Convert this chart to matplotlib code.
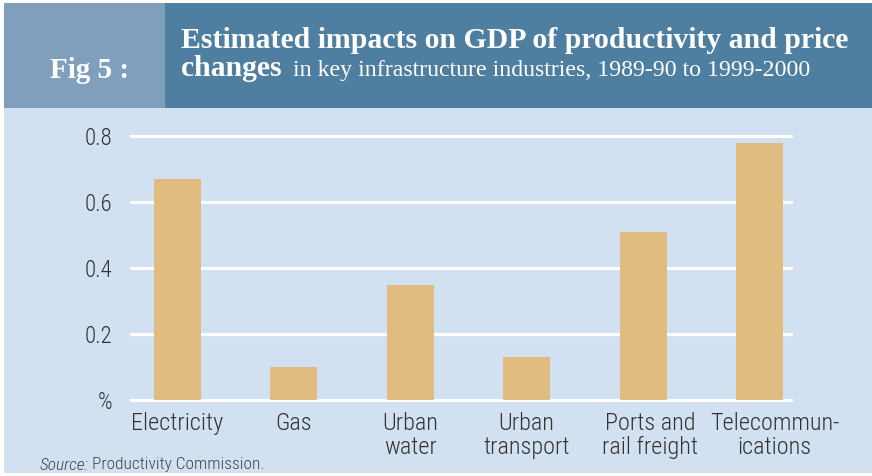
import matplotlib
matplotlib.use('Agg')
import matplotlib.pyplot as plt
import matplotlib.patches as mpatches
import matplotlib.transforms as mtransforms
import numpy as np

categories = ['Electricity', 'Gas', 'Urban\nwater', 'Urban\ntransport',
              'Ports and\nrail freight', 'Telecommun-\nications']
impacts = [0.67, 0.10, 0.35, 0.13, 0.51, 0.78]
yticks = [0.0, 0.2, 0.4, 0.6, 0.8]
ytick_labels = ['%', '0.2', '0.4', '0.6', '0.8']

bg = '#d2e1f1'
bar_color = '#e0bc80'
head_left = '#7f9fbc'
head_right = '#4f7fa0'
text_color = '#333333'
narrow = ['Roboto Condensed', 'PT Sans Narrow', 'DejaVu Sans']
serif = ['Liberation Serif', 'DejaVu Serif']

W, H = 872, 476
fig = plt.figure(figsize=(W / 100, H / 100), dpi=100)
fig.patch.set_facecolor('white')

def px_rect(x0, y0, x1, y1, color):
    # rectangle in pixel coords (y from top)
    r = mpatches.Rectangle((x0 / W, 1 - y1 / H), (x1 - x0) / W, (y1 - y0) / H,
                           transform=fig.transFigure, facecolor=color,
                           edgecolor='none', zorder=-5)
    fig.patches.append(r)

px_rect(4, 108, 872, 473, bg)
px_rect(4, 3, 165, 108, head_left)
px_rect(165, 3, 872, 108, head_right)

fig.text(90 / W, 1 - 70 / H, 'Fig 5 :', color='white', fontsize=21,
         fontweight='bold', family=serif, ha='center', va='center')
fig.text(181 / W, 1 - 48 / H,
         'Estimated impacts on GDP of productivity and price',
         color='white', fontsize=21.4, fontweight='bold', family=serif,
         ha='left', va='baseline')
fig.text(181 / W, 1 - 76 / H, 'changes', color='white', fontsize=21.4,
         fontweight='bold', family=serif, ha='left', va='baseline')
fig.text(293 / W, 1 - 76 / H,
         'in key infrastructure industries, 1989-90 to 1999-2000',
         color='white', fontsize=17.2, family=serif, ha='left', va='baseline')

# axes: x from 130 to 793 px, y 0..0.8 maps 400..136 px
ylo, yhi = -0.01, 0.81
ppu = (400 - 136.3) / 0.8
ax_bottom = 400 + (0 - ylo) * ppu
ax_top = 136.3 - (yhi - 0.8) * ppu
ax = fig.add_axes([130 / W, 1 - ax_bottom / H, (793 - 130) / W,
                   (ax_bottom - ax_top) / H])
ax.set_facecolor('none')
x = np.arange(len(categories))
ax.bar(x, impacts, width=0.404, color=bar_color, zorder=3)
ax.set_xlim(-0.408, 5.288)
ax.set_ylim(ylo, yhi)
ax.set_yticks(yticks)
ax.set_yticklabels(ytick_labels)
ax.set_xticks(x)
ax.set_xticklabels(categories, linespacing=1.1)
ax.yaxis.grid(True, color='white', linewidth=2.2, zorder=1)
ax.set_axisbelow(True)
for s in ax.spines.values():
    s.set_visible(False)
ax.tick_params(axis='both', length=0, colors=text_color)
ax.tick_params(axis='y', pad=13)
ax.tick_params(axis='x', pad=6)
for lbl in ax.get_yticklabels():
    lbl.set_family(narrow)
    lbl.set_fontsize(16.5)
    lbl.set_fontweight('light')
    lbl.set_color(text_color)
for lbl in ax.get_xticklabels():
    lbl.set_family(narrow)
    lbl.set_fontsize(17.5)
    lbl.set_fontweight('light')
    lbl.set_color(text_color)

# the last two labels sit a little right of their bars in the original
xlabels = ax.get_xticklabels()
for i, dx in [(4, 7), (5, 15)]:
    off = mtransforms.ScaledTranslation(dx / 100, 0, fig.dpi_scale_trans)
    xlabels[i].set_transform(xlabels[i].get_transform() + off)

src = fig.text(40 / W, 1 - 465 / H, 'Source:', style='italic', fontsize=12.5,
               family=narrow, fontweight='light', color='#444444', va='center')
fig.canvas.draw()
bb = src.get_window_extent()
fig.text((bb.x1 + 3) / W, 1 - 465 / H, 'Productivity Commission.',
         fontsize=12.5, family=narrow, fontweight='light', color='#444444',
         va='center')

fig.savefig('out.png', dpi=100)
